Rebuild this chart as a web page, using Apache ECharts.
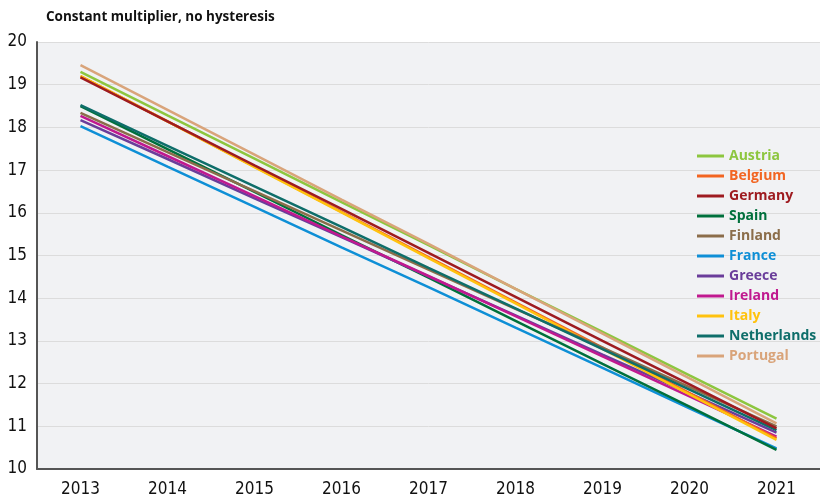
<!DOCTYPE html>
<html>
<head>
<meta charset="utf-8">
<script src="https://cdn.jsdelivr.net/npm/echarts@6/dist/echarts.min.js"></script>
<style>
  html, body { margin: 0; padding: 0; background: #fff; }
  #chart { width: 820px; height: 500px; }
</style>
</head>
<body>
<div id="chart"></div>
<script>
const years = ['2013','2014','2015','2016','2017','2018','2019','2020','2021'];

const austria     = [19.30, 18.28, 17.27, 16.25, 15.24, 14.22, 13.21, 12.19, 11.18];
const belgium     = [19.20, 18.14, 17.08, 16.02, 14.96, 13.90, 12.84, 11.78, 10.72];
const germany     = [19.17, 18.14, 17.11, 16.09, 15.06, 14.03, 13.00, 11.98, 10.95];
const spain       = [18.50, 17.49, 16.49, 15.48, 14.48, 13.47, 12.46, 11.46, 10.45];
const finland     = [18.34, 17.42, 16.51, 15.59, 14.67, 13.75, 12.84, 11.92, 11.00];
const france      = [18.03, 17.08, 16.14, 15.19, 14.26, 13.31, 12.37, 11.42, 10.48];
const greece      = [18.17, 17.26, 16.34, 15.43, 14.51, 13.60, 12.68, 11.77, 10.85];
const ireland     = [18.27, 17.33, 16.39, 15.45, 14.52, 13.58, 12.64, 11.70, 10.76];
const italy       = [19.20, 18.14, 17.07, 16.01, 14.94, 13.88, 12.81, 11.75, 10.68];
const netherlands = [18.52, 17.57, 16.62, 15.67, 14.71, 13.76, 12.81, 11.86, 10.91];
const portugal    = [19.46, 18.41, 17.36, 16.31, 15.27, 14.22, 13.17, 12.12, 11.07];

const names  = ['Austria','Belgium','Germany','Spain','Finland','France','Greece','Ireland','Italy','Netherlands','Portugal'];
const values = [austria, belgium, germany, spain, finland, france, greece, ireland, italy, netherlands, portugal];
const colors = ['#8dc63f','#f26522','#9e1b20','#00703c','#8b6d4a','#0e8fd6','#6a3d9a','#c0198f','#ffc20e','#0e6e6a','#d9a47a'];

// draw order: lower lines first so the top ones sit on top like the original
const drawOrder = [5, 3, 6, 7, 1, 8, 4, 9, 2, 0, 10];

const tickFont = 'DejaVu Sans Condensed, Liberation Sans Narrow, DejaVu Sans, sans-serif';

const chart = echarts.init(document.getElementById('chart'));

chart.setOption({
  animation: false,
  backgroundColor: '#fff',
  title: {
    text: 'Constant multiplier, no hysteresis',
    left: 41, top: 5,
    textStyle: {fontFamily: 'Open Sans', fontSize: 13.5, fontWeight: 'bold', color: '#111'}
  },
  grid: {
    left: 37, top: 42, width: 792, bottom: 31,
    show: true, backgroundColor: '#f1f2f4', borderWidth: 0
  },
  legend: {
    orient: 'vertical',
    left: 692, top: 144,
    itemWidth: 27, itemHeight: 3, itemGap: 6,
    icon: 'rect',
    data: names.map((n, i) => ({
      name: n,
      textStyle: {color: colors[i], fontFamily: 'Open Sans', fontSize: 14, fontWeight: 'bold'}
    }))
  },
  xAxis: {
    type: 'category',
    data: years,
    boundaryGap: true,
    axisLine: {lineStyle: {color: '#555', width: 2}},
    axisTick: {length: 8, lineStyle: {color: '#888', width: 1}},
    axisLabel: {fontFamily: tickFont, fontSize: 17, color: '#111', margin: 12}
  },
  yAxis: {
    type: 'value',
    min: 10, max: 20, interval: 1,
    axisLine: {show: true, lineStyle: {color: '#555', width: 2}},
    axisTick: {show: false},
    axisLabel: {fontFamily: tickFont, fontSize: 17, color: '#111', margin: 10},
    splitLine: {lineStyle: {color: '#dcdcdc', width: 1}}
  },
  series: drawOrder.map(i => ({
    name: names[i],
    type: 'line',
    data: values[i],
    symbol: 'none',
    lineStyle: {width: 2.5, color: colors[i]},
    itemStyle: {color: colors[i]},
    z: 3
  }))
});
</script>
</body>
</html>
